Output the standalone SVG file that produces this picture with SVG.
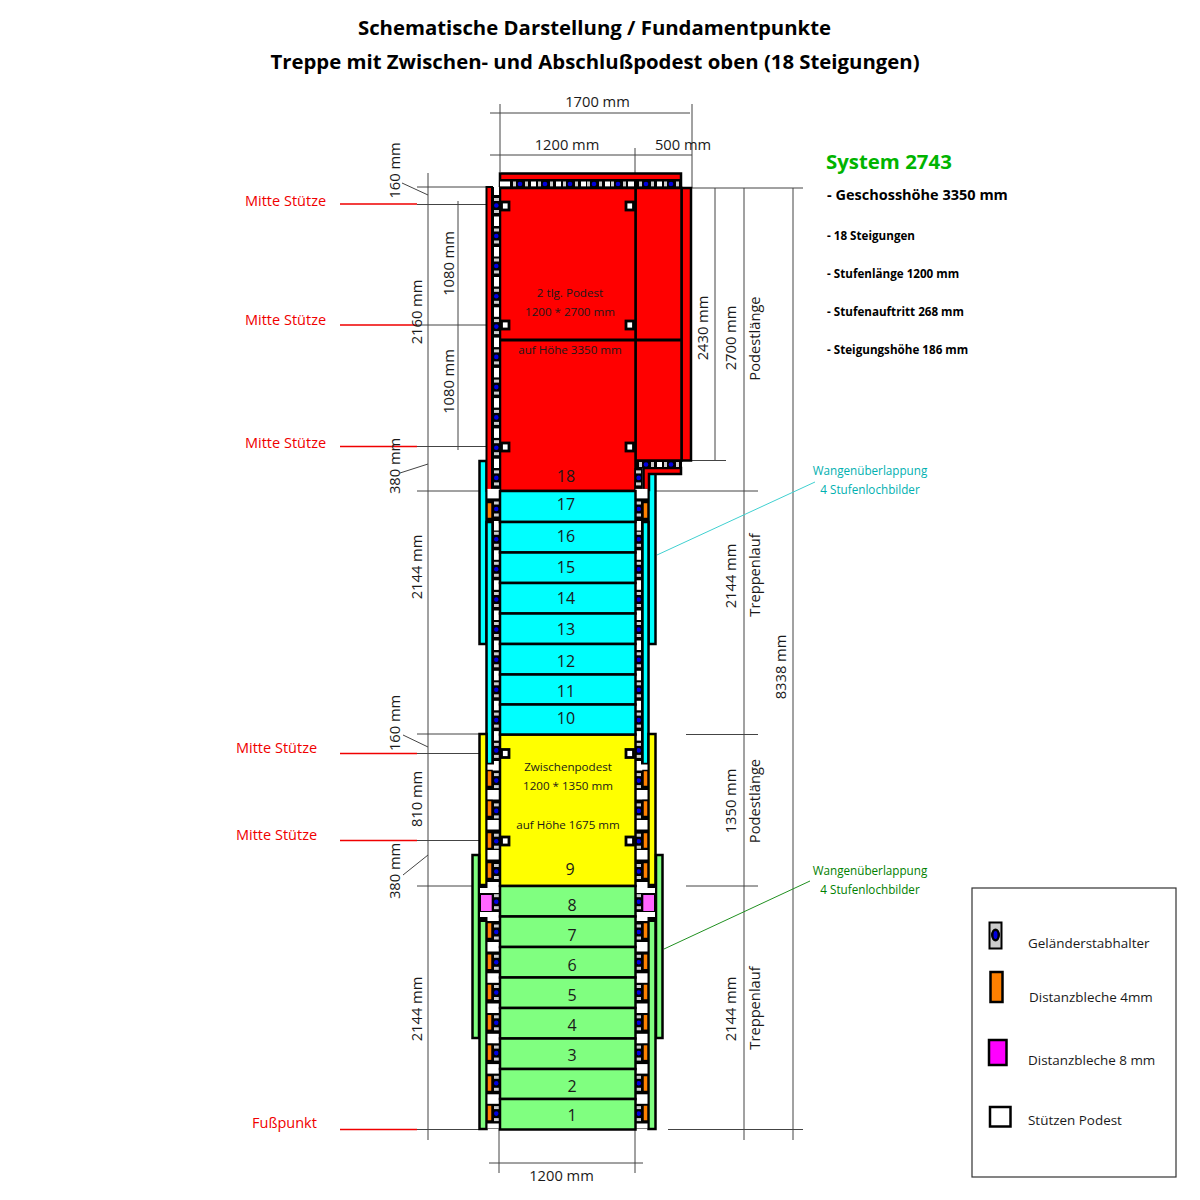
<svg xmlns="http://www.w3.org/2000/svg" xmlns:xlink="http://www.w3.org/1999/xlink" width="1200" height="1200" viewBox="0 0 1200 1200">
<style>
text{font-family:"Open Sans","Noto Sans","DejaVu Sans",sans-serif;fill:#1a1a1a}
.t{font-size:20.35px;font-weight:700;text-anchor:middle;fill:#000}
.dm{font-size:14.7px;text-anchor:middle}
.n{font-size:16px;text-anchor:middle}
.p{font-size:11.6px;text-anchor:middle}
.r{font-size:14.5px;fill:#f00000}
.b{font-size:11.65px;font-weight:700;fill:#000}
.l{font-size:13.45px}
.w{font-size:11.7px;text-anchor:middle}
.dim{stroke:#444;stroke-width:1;fill:none}
.red{stroke:#f00000;stroke-width:1.5;fill:none}
.s{stroke:#000;stroke-width:2.5}
.cy{fill:#00ffff}.ye{fill:#ffff00}.gr{fill:#80ff80}.rd{fill:#ff0000}.or{fill:#ff8000}
.wh{fill:#fff}.gy{fill:#ccc}.bl{fill:#0000e0}
</style>
<defs>
<g id="u"><rect x="494" y="-7" width="5" height="3" class="gy"/><rect x="494" y="5" width="5" height="3" class="gy"/><circle cx="496.3" cy="0.5" r="2.3" class="bl"/></g>
<rect id="wn" x="494" y="11.5" width="5" height="9.5" class="wh"/>
<rect id="ww" x="487.5" y="11.5" width="12" height="9.5" class="wh"/>
<rect id="o" x="487" y="-8" width="5" height="16" class="or" stroke="#000" stroke-width="1.5"/>
<g id="uh"><rect x="-7" y="181.5" width="3" height="5" class="gy"/><rect x="5" y="181.5" width="3" height="5" class="gy"/><circle cx="0" cy="184" r="2.3" class="bl"/></g>
<rect id="uw" x="11" y="181.5" width="5" height="5" class="wh"/>
<rect id="st" x="501.5" y="202" width="7.5" height="8" class="wh" stroke="#000" stroke-width="2.8"/>
<g id="stringers">
<rect x="479.5" y="461" width="7" height="183" class="cy s"/>
<rect x="486.5" y="522" width="6" height="242" class="cy s"/>
<rect x="479.5" y="734" width="7" height="151" class="ye s"/>
<rect x="472.5" y="855" width="6.5" height="183" class="gr s"/>
<rect x="479.5" y="915" width="7" height="214" class="gr s"/>
</g>
<g id="rail">
<rect x="492.5" y="468" width="8" height="661" fill="#000"/>
<rect x="486" y="490" width="8" height="32" fill="#000"/>
<rect x="486" y="764" width="8" height="365" fill="#000"/>
<rect x="479" y="886" width="15" height="36" fill="#000"/>
<use href="#u" transform="translate(0,477.4)"/><use href="#ww" transform="translate(0,477.4)"/>
<use href="#u" transform="translate(0,508.5)"/><use href="#o" transform="translate(0,510.5)"/><use href="#wn" transform="translate(0,509.5)"/>
<use href="#u" transform="translate(0,538.8)"/><use href="#wn" transform="translate(0,538.8)"/>
<use href="#u" transform="translate(0,568.8)"/><use href="#wn" transform="translate(0,568.8)"/>
<use href="#u" transform="translate(0,599)"/><use href="#wn" transform="translate(0,599)"/>
<use href="#u" transform="translate(0,629)"/><use href="#wn" transform="translate(0,629)"/>
<use href="#u" transform="translate(0,659.3)"/><use href="#wn" transform="translate(0,659.3)"/>
<use href="#u" transform="translate(0,689.3)"/><use href="#wn" transform="translate(0,689.3)"/>
<use href="#u" transform="translate(0,719.6)"/><use href="#wn" transform="translate(0,719.6)"/>
<use href="#u" transform="translate(0,749.9)"/>
<rect x="494" y="761" width="5" height="4" class="wh"/><rect x="487.5" y="764.5" width="12" height="6" class="wh"/>
<use href="#u" transform="translate(0,780.1)"/><use href="#o" transform="translate(0,778.5)"/><use href="#ww" transform="translate(0,778.5)"/>
<use href="#u" transform="translate(0,810.4)"/><use href="#o" transform="translate(0,808.5)"/><use href="#ww" transform="translate(0,808.5)"/>
<use href="#u" transform="translate(0,840.7)"/><use href="#o" transform="translate(0,840.5)"/><use href="#ww" transform="translate(0,838.5)"/>
<use href="#u" transform="translate(0,871)"/><use href="#o" transform="translate(0,870.5)"/>
<polygon points="487.5,882 499.5,882 499.5,893 480,893 480,888 487.5,888" class="wh"/>
<use href="#u" transform="translate(0,901.2)"/>
<rect x="481" y="895" width="10.7" height="16" fill="#ff66ff"/>
<polygon points="480,912 499.5,912 499.5,921 487.5,921 487.5,917 480,917" class="wh"/>
<use href="#u" transform="translate(0,931.5)"/><use href="#o" transform="translate(0,930.5)"/><use href="#ww" transform="translate(0,930.5)"/>
<use href="#u" transform="translate(0,961.8)"/><use href="#o" transform="translate(0,961.8)"/><use href="#ww" transform="translate(0,961.8)"/>
<use href="#u" transform="translate(0,992)"/><use href="#o" transform="translate(0,992)"/><use href="#ww" transform="translate(0,992)"/>
<use href="#u" transform="translate(0,1022.3)"/><use href="#o" transform="translate(0,1022.3)"/><use href="#ww" transform="translate(0,1022.3)"/>
<use href="#u" transform="translate(0,1052.6)"/><use href="#o" transform="translate(0,1052.6)"/><use href="#ww" transform="translate(0,1052.6)"/>
<use href="#u" transform="translate(0,1082.8)"/><use href="#o" transform="translate(0,1083.5)"/><use href="#ww" transform="translate(0,1082.8)"/>
<use href="#u" transform="translate(0,1113.1)"/><use href="#o" transform="translate(0,1113)"/>
<rect x="487.5" y="1123.5" width="12" height="5" class="wh"/>
</g>
</defs>

<rect width="1200" height="1200" fill="#fff"/>
<text class="t" x="594.5" y="35">Schematische Darstellung / Fundamentpunkte</text>
<text class="t" x="595" y="68.5">Treppe mit Zwischen- und Abschlußpodest oben (18 Steigungen)</text>

<g id="connectors">
<path class="dim" d="M490 113H690M500 104V172M692 104V188M490 155H692M635 148V187"/>
<path class="dim" d="M428 173V1140M458 201V450M417 187H486M417 204.5H486M417 325H486M417 446.5H486M417 491H479M417 734H479M417 753.5H479M417 840.5H479M417 886H472M417 1129.5H479"/>
<path class="dim" d="M402 183L428 195M400 473L428 464M403 735L428 747M403 875L428 855"/>
<path class="dim" d="M692 188H803M692 460.5H726M715 188V461M744 188V1140M793 188V1140M650 491H758M686 734.5H758M686 886H758M668 1129.5H803"/>
<path class="dim" d="M499 1129V1173M635 1129V1173M489 1163H643"/>
<path class="red" d="M340 204H417M340 325H417M340 446.5H417M340 753.5H417M340 840.5H417M340 1129.5H417"/>
<path d="M657 555L815 482" stroke="#40d0d0" stroke-width="1" fill="none"/>
<path d="M664 949L810 881" stroke="#209020" stroke-width="1" fill="none"/>
</g>

<g id="stringers-left"><use href="#stringers"/></g>
<g id="stringers-right"><use href="#stringers" transform="matrix(-1 0 0 1 1135 0)"/></g>

<g id="podest-oben">
<rect x="500" y="173.5" width="181" height="15" class="rd s"/>
<rect x="500" y="179" width="181" height="9" fill="#000"/>
<rect x="500" y="181.5" width="10" height="5" class="wh"/>
<rect x="628" y="181.5" width="6" height="5" class="wh"/>
<use href="#uh" x="520"/><use href="#uh" x="545"/><use href="#uh" x="570"/><use href="#uh" x="594"/><use href="#uh" x="618"/><use href="#uh" x="646"/><use href="#uh" x="671"/>
<use href="#uw" x="520"/><use href="#uw" x="545"/><use href="#uw" x="570"/><use href="#uw" x="594"/><use href="#uw" x="646"/>
<rect x="681.5" y="188" width="9.5" height="272.5" class="rd s"/>
<rect x="486.5" y="187" width="5.5" height="304" class="rd" stroke="#000" stroke-width="2"/>
<rect x="635.5" y="188" width="46" height="272.5" class="rd s"/>
<rect x="636" y="460" width="46" height="8" fill="#000"/>
<polygon points="643.5,468 681,468 681,474 649,474 649,490 643.5,490" class="rd s"/>
<rect x="500" y="188" width="135.5" height="303" class="rd s"/>
<path d="M500 340H681" stroke="#000" stroke-width="3"/>
<text class="p" x="570" y="297">2 tlg. Podest</text>
<text class="p" x="570" y="316">1200 * 2700 mm</text>
<text class="p" x="570" y="354">auf Höhe 3350 mm</text>
<text class="n" x="566" y="482">18</text>
</g>

<g id="rail-oben">
<rect x="492.5" y="187" width="8" height="300" fill="#000"/>
<rect x="494" y="187" width="5" height="8" class="wh"/>
<use href="#u" transform="translate(0,205)"/><use href="#wn" transform="translate(0,205)"/>
<use href="#u" transform="translate(0,235.5)"/><use href="#wn" transform="translate(0,235.5)"/>
<use href="#u" transform="translate(0,265.5)"/><use href="#wn" transform="translate(0,265.5)"/>
<use href="#u" transform="translate(0,295.8)"/><use href="#wn" transform="translate(0,295.8)"/>
<use href="#u" transform="translate(0,326.1)"/><use href="#wn" transform="translate(0,326.1)"/>
<use href="#u" transform="translate(0,356.4)"/><use href="#wn" transform="translate(0,356.4)"/>
<use href="#u" transform="translate(0,386.6)"/><use href="#wn" transform="translate(0,386.6)"/>
<use href="#u" transform="translate(0,416.9)"/><use href="#wn" transform="translate(0,416.9)"/>
<use href="#u" transform="translate(0,447.2)"/><use href="#wn" transform="translate(0,447.2)"/>
</g>
<g id="rail-unten-links"><use href="#rail"/></g>
<g id="rail-unten-rechts"><use href="#rail" transform="matrix(-1 0 0 1 1135 0)"/></g>
<g id="halter-zwischen">
<rect x="636" y="461" width="45" height="7" fill="#000"/>
<use href="#uh" y="280.5" x="646"/><use href="#uh" y="280.5" x="671"/>
<use href="#uw" y="280.5" x="646"/>
</g>

<g id="zwischenpodest">
<rect x="500" y="734.5" width="135.5" height="151.5" class="ye s"/>
<text class="p" x="568" y="771">Zwischenpodest</text>
<text class="p" x="568" y="790">1200 * 1350 mm</text>
<text class="p" x="568" y="829">auf Höhe 1675 mm</text>
<text class="n" x="570" y="875">9</text>
</g>
<g id="stufe-17"><rect x="500" y="491" width="135.5" height="31" class="cy s"/><text class="n" x="566" y="510">17</text></g>
<g id="stufe-16"><rect x="500" y="522" width="135.5" height="30.5" class="cy s"/><text class="n" x="566" y="542">16</text></g>
<g id="stufe-15"><rect x="500" y="552.5" width="135.5" height="30.5" class="cy s"/><text class="n" x="566" y="573">15</text></g>
<g id="stufe-14"><rect x="500" y="583" width="135.5" height="30.5" class="cy s"/><text class="n" x="566" y="604">14</text></g>
<g id="stufe-13"><rect x="500" y="613.5" width="135.5" height="30.5" class="cy s"/><text class="n" x="566" y="635">13</text></g>
<g id="stufe-12"><rect x="500" y="644" width="135.5" height="30.5" class="cy s"/><text class="n" x="566" y="667">12</text></g>
<g id="stufe-11"><rect x="500" y="674.5" width="135.5" height="30" class="cy s"/><text class="n" x="566" y="697">11</text></g>
<g id="stufe-10"><rect x="500" y="704.5" width="135.5" height="30" class="cy s"/><text class="n" x="566" y="724">10</text></g>
<g id="stufe-8"><rect x="500" y="886" width="135.5" height="30.5" class="gr s"/><text class="n" x="572" y="911">8</text></g>
<g id="stufe-7"><rect x="500" y="916.5" width="135.5" height="30.5" class="gr s"/><text class="n" x="572" y="941">7</text></g>
<g id="stufe-6"><rect x="500" y="947" width="135.5" height="30.5" class="gr s"/><text class="n" x="572" y="971">6</text></g>
<g id="stufe-5"><rect x="500" y="977.5" width="135.5" height="30.5" class="gr s"/><text class="n" x="572" y="1001">5</text></g>
<g id="stufe-4"><rect x="500" y="1008" width="135.5" height="30.5" class="gr s"/><text class="n" x="572" y="1031">4</text></g>
<g id="stufe-3"><rect x="500" y="1038.5" width="135.5" height="30.5" class="gr s"/><text class="n" x="572" y="1061">3</text></g>
<g id="stufe-2"><rect x="500" y="1069" width="135.5" height="30" class="gr s"/><text class="n" x="572" y="1092">2</text></g>
<g id="stufe-1"><rect x="500" y="1099" width="135.5" height="30.5" class="gr s"/><text class="n" x="572" y="1121">1</text></g>

<g id="stuetzen">
<use href="#st"/><use href="#st" y="119"/><use href="#st" y="241"/><use href="#st" y="547.5"/><use href="#st" y="635"/>
<g transform="matrix(-1 0 0 1 1135 0)"><use href="#st"/><use href="#st" y="119"/><use href="#st" y="241"/><use href="#st" y="547.5"/><use href="#st" y="635"/></g>
</g>

<g id="labels">
<text class="dm" x="597.5" y="107">1700 mm</text>
<text class="dm" x="567" y="150">1200 mm</text>
<text class="dm" x="683" y="150">500 mm</text>
<text class="dm" x="561.5" y="1181">1200 mm</text>
<text class="r" x="245" y="206">Mitte Stütze</text>
<text class="r" x="245" y="325">Mitte Stütze</text>
<text class="r" x="245" y="448">Mitte Stütze</text>
<text class="r" x="236" y="753">Mitte Stütze</text>
<text class="r" x="236" y="840">Mitte Stütze</text>
<text class="r" x="252" y="1128">Fußpunkt</text>
<text class="dm" transform="translate(400,170.5) rotate(-90)">160 mm</text>
<text class="dm" transform="translate(422,312) rotate(-90)">2160 mm</text>
<text class="dm" transform="translate(454,263.5) rotate(-90)">1080 mm</text>
<text class="dm" transform="translate(454,381.5) rotate(-90)">1080 mm</text>
<text class="dm" transform="translate(400,466) rotate(-90)">380 mm</text>
<text class="dm" transform="translate(422,567) rotate(-90)">2144 mm</text>
<text class="dm" transform="translate(400,723) rotate(-90)">160 mm</text>
<text class="dm" transform="translate(422,799) rotate(-90)">810 mm</text>
<text class="dm" transform="translate(400,871) rotate(-90)">380 mm</text>
<text class="dm" transform="translate(422,1009) rotate(-90)">2144 mm</text>
<text class="dm" transform="translate(708,328) rotate(-90)">2430 mm</text>
<text class="dm" transform="translate(736,338) rotate(-90)">2700 mm</text>
<text class="dm" transform="translate(760,338.5) rotate(-90)">Podestlänge</text>
<text class="dm" transform="translate(736,576) rotate(-90)">2144 mm</text>
<text class="dm" transform="translate(760,575) rotate(-90)">Treppenlauf</text>
<text class="dm" transform="translate(736,801) rotate(-90)">1350 mm</text>
<text class="dm" transform="translate(760,801) rotate(-90)">Podestlänge</text>
<text class="dm" transform="translate(786,667) rotate(-90)">8338 mm</text>
<text class="dm" transform="translate(736,1009) rotate(-90)">2144 mm</text>
<text class="dm" transform="translate(760,1008) rotate(-90)">Treppenlauf</text>
<text class="w" x="870" y="475" style="fill:#00b0b0">Wangenüberlappung</text>
<text class="w" x="870" y="494" style="fill:#00b0b0">4 Stufenlochbilder</text>
<text class="w" x="870" y="875" style="fill:#008000">Wangenüberlappung</text>
<text class="w" x="870" y="894" style="fill:#008000">4 Stufenlochbilder</text>
</g>

<g id="system">
<text x="826" y="169" style="font-size:20.4px;font-weight:700;fill:#00b400">System 2743</text>
<text x="827" y="200" style="font-size:14.5px;font-weight:700;fill:#000">- Geschosshöhe 3350 mm</text>
<text class="b" x="827" y="239.5">- 18 Steigungen</text>
<text class="b" x="827" y="277.5">- Stufenlänge 1200 mm</text>
<text class="b" x="827" y="315.5">- Stufenauftritt 268 mm</text>
<text class="b" x="827" y="353.5">- Steigungshöhe 186 mm</text>
</g>

<g id="legende">
<rect x="972" y="888" width="204" height="289" fill="#fff" stroke="#333" stroke-width="1.2"/>
<rect x="989.5" y="922.5" width="12" height="26" class="gy" stroke="#000" stroke-width="2"/>
<ellipse cx="995.5" cy="935" rx="4.5" ry="6.5" fill="#000"/><ellipse cx="995.5" cy="935" rx="2" ry="4" class="bl"/>
<text class="l" x="1028" y="948">Geländerstabhalter</text>
<rect x="990.5" y="972" width="12" height="30" class="or s"/>
<text class="l" x="1029" y="1002">Distanzbleche 4mm</text>
<rect x="989" y="1040" width="17.5" height="25" fill="#ff00ff" class="s"/>
<text class="l" x="1028" y="1065">Distanzbleche 8 mm</text>
<rect x="990" y="1107" width="20.5" height="19.5" class="wh s"/>
<text class="l" x="1028" y="1125">Stützen Podest</text>
</g>
</svg>
